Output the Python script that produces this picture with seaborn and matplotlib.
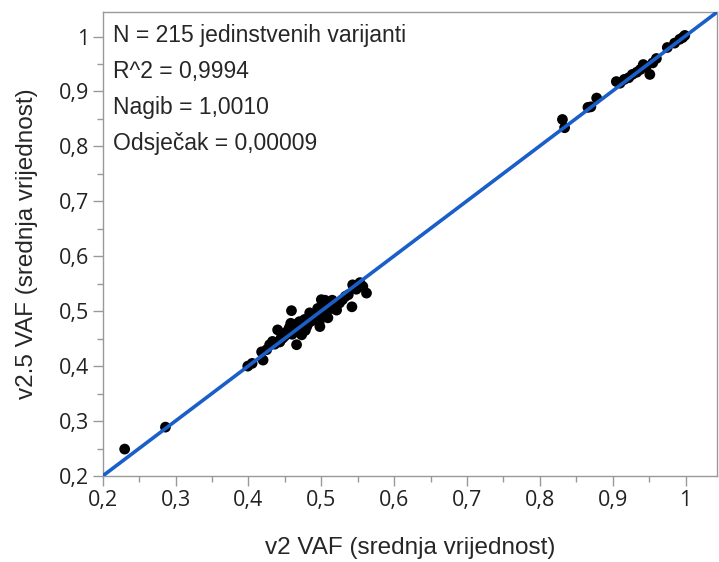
import pandas as pd
import matplotlib.pyplot as plt
import seaborn as sns

# vrijednosti procijenjene sa slike
v2 = [0.230, 0.286,
      0.399, 0.405, 0.418, 0.420, 0.425, 0.429, 0.433, 0.436, 0.440, 0.443, 0.445,
      0.447, 0.450, 0.452, 0.454, 0.456, 0.459, 0.460, 0.462, 0.464, 0.466, 0.468,
      0.470, 0.472, 0.473, 0.475, 0.477, 0.480, 0.482, 0.484, 0.486, 0.488, 0.490,
      0.492, 0.495, 0.497, 0.498, 0.500, 0.502, 0.505, 0.507, 0.509, 0.511, 0.514,
      0.517, 0.521, 0.525, 0.529, 0.533, 0.537, 0.542, 0.543, 0.548, 0.553, 0.557,
      0.562, 0.478, 0.458, 0.505, 0.515, 0.495,
      0.831, 0.834, 0.866, 0.870, 0.878, 0.905, 0.910, 0.916, 0.922, 0.927, 0.933,
      0.938, 0.942, 0.946, 0.951, 0.955, 0.960, 0.975, 0.985, 0.992, 0.996, 0.999]
v25 = [0.249, 0.289,
       0.400, 0.405, 0.426, 0.411, 0.430, 0.439, 0.445, 0.440, 0.466, 0.444, 0.452,
       0.451, 0.455, 0.462, 0.461, 0.470, 0.501, 0.458, 0.465, 0.475, 0.439, 0.478,
       0.481, 0.470, 0.457, 0.480, 0.485, 0.472, 0.478, 0.497, 0.482, 0.490, 0.486,
       0.495, 0.490, 0.480, 0.472, 0.521, 0.500, 0.497, 0.515, 0.488, 0.515, 0.505,
       0.510, 0.502, 0.515, 0.521, 0.527, 0.530, 0.508, 0.548, 0.540, 0.552, 0.545,
       0.533, 0.465, 0.478, 0.520, 0.520, 0.505,
       0.849, 0.834, 0.871, 0.872, 0.888, 0.918, 0.915, 0.922, 0.925, 0.931, 0.935,
       0.940, 0.949, 0.945, 0.931, 0.952, 0.960, 0.980, 0.988, 0.995, 0.998, 1.002]

nagib = 1.0010
odsjecak = 0.00009
tick_vals = [0.2, 0.3, 0.4, 0.5, 0.6, 0.7, 0.8, 0.9, 1.0]
tick_labels = ['0,2', '0,3', '0,4', '0,5', '0,6', '0,7', '0,8', '0,9', '1']
tekst = ['N = 215 jedinstvenih varijanti', 'R^2 = 0,9994',
         'Nagib = 1,0010', 'Odsječak = 0,00009']

df = pd.DataFrame({'v2': v2, 'v25': v25})

sns.set_style('ticks')
plt.rcParams['font.family'] = ['Liberation Sans', 'DejaVu Sans']

fig = plt.figure(figsize=(7.19, 5.62), dpi=100)
ax = fig.add_axes([0.143, 0.153, 0.854, 0.826])

xl = [0.2, 1.043]
ax.plot(xl, [odsjecak + nagib * x for x in xl], color='#1a5fc9', lw=2.6, zorder=3)
sns.scatterplot(data=df, x='v2', y='v25', color='black', s=60, edgecolor='none',
                ax=ax, zorder=2)

ax.set_xlim(0.2, 1.043)
ax.set_ylim(0.2, 1.045)
ax.set_xticks(tick_vals, tick_labels)
ax.set_yticks(tick_vals, tick_labels)
ax.set_xticks([t + 0.05 for t in tick_vals[:-1]], minor=True)
ax.set_yticks([t + 0.05 for t in tick_vals[:-1]], minor=True)
ax.tick_params(which='major', length=7, color='#999999', width=1, pad=3,
               labelcolor='#222222', labelsize=15.5, labelfontfamily='Open Sans')
ax.tick_params(which='minor', length=4, color='#999999', width=1)
for s in ax.spines.values():
    s.set_color('#999999')
    s.set_linewidth(1)

ax.set_xlabel('v2 VAF (srednja vrijednost)', fontsize=17.5, labelpad=19)
ax.set_ylabel('v2.5 VAF (srednja vrijednost)', fontsize=17.5, labelpad=15)

for i, t in enumerate(tekst):
    ax.text(0.017, 0.948 - i * 0.077, t, transform=ax.transAxes, fontsize=16.5,
            va='center')

fig.savefig('out.png', dpi=100)
